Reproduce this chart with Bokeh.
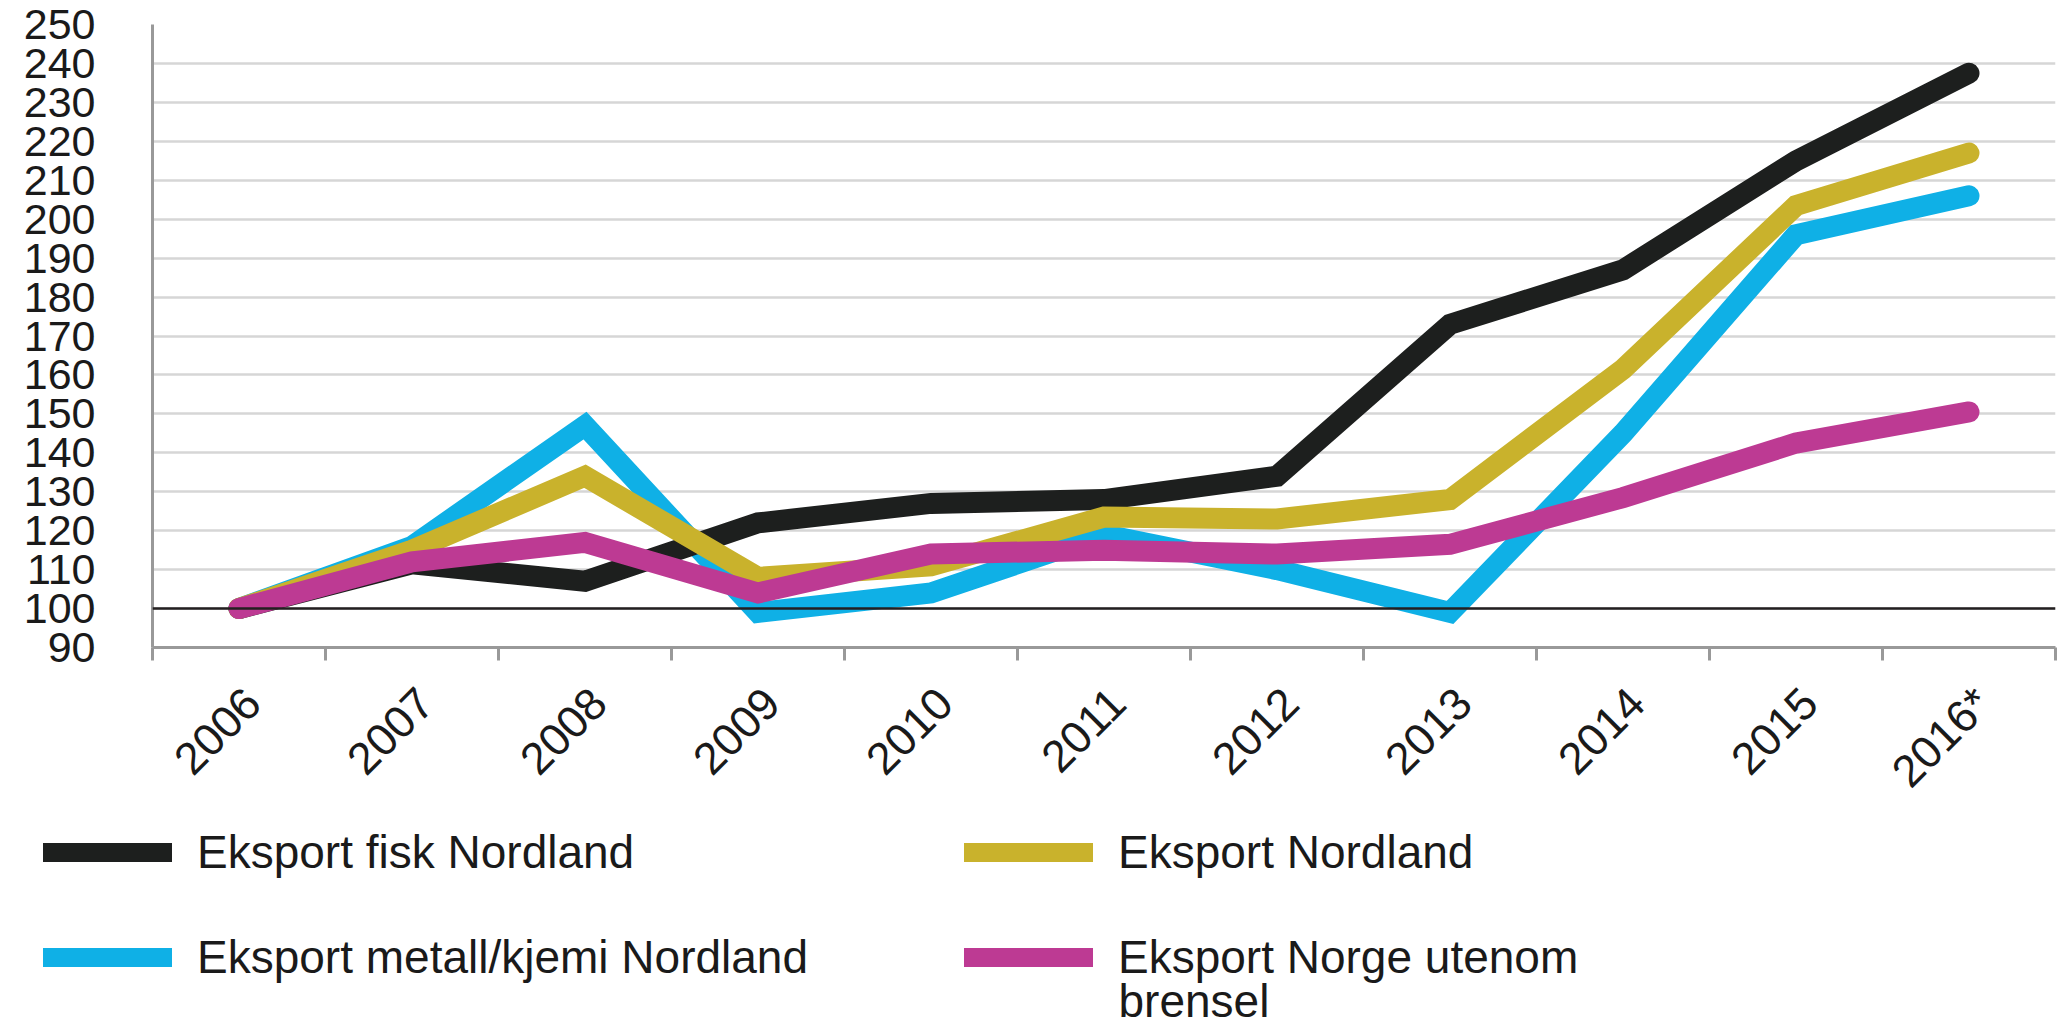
from math import pi
from bokeh.plotting import figure
from bokeh.layouts import column
from bokeh.models import (Range1d, FixedTicker, LinearAxis, Span, Legend, LegendItem, Label,
                          CustomLabelingPolicy)
from bokeh.embed import file_html
from bokeh.resources import INLINE

years = ["2006", "2007", "2008", "2009", "2010", "2011", "2012", "2013", "2014", "2015", "2016*"]
fisk = [100, 111.5, 107, 122, 127, 128, 134, 173, 187, 215, 237.5]
nordland = [100, 115, 134, 108, 111, 123.5, 123, 128, 161.5, 203.5, 217]
metall = [100, 116, 147, 99, 104, 119, 110, 99, 145, 196, 206]
norge = [100, 112, 117, 104, 114, 115, 114, 116.5, 128.5, 142.5, 150.5]
y_ticks = [90, 100, 110, 120, 130, 140, 150, 160, 170, 180, 190, 200, 210, 220, 230, 240, 250]
BASE = 100

names = ["Eksport fisk Nordland", "Eksport Nordland", "Eksport metall/kjemi Nordland",
         "Eksport Norge utenom"]
name_cont = "brensel"
colors = ["#1d1f1e", "#c9b22c", "#0fb0e6", "#bd3a93"]
keys = ["fisk", "nordland", "metall", "norge"]

FONT = "Liberation Sans"
TXT = "#1a1a1a"
AXC = "#999999"
LABEL_SHIFT = 0.08
FRAME_LEFT = 152
LW = 21

xs = list(range(len(years)))

p = figure(width=2061, height=820,
           x_range=Range1d(-0.5, len(years) - 0.5), y_range=Range1d(y_ticks[0], y_ticks[-1]),
           output_backend="svg", toolbar_location=None, x_axis_location=None,
           min_border_left=FRAME_LEFT, min_border_right=6, min_border_top=24, min_border_bottom=173)
p.outline_line_color = None
p.xgrid.visible = False

yt = FixedTicker(ticks=y_ticks)
p.yaxis.ticker = yt
p.ygrid.ticker = yt
p.ygrid.grid_line_color = "#d6d6d6"
p.ygrid.grid_line_width = 2.5
p.yaxis.axis_line_color = AXC
p.yaxis.axis_line_width = 3
p.yaxis.major_tick_line_color = None
p.yaxis.minor_tick_line_color = None
p.yaxis.major_tick_out = 0
p.yaxis.major_label_standoff = 57
p.yaxis.major_label_text_font = FONT
p.yaxis.major_label_text_font_size = "43px"
p.yaxis.major_label_text_color = TXT

# axis with tick marks at category boundaries (labels suppressed)
no_labels = CustomLabelingPolicy(code="for (const i of indices) { indices.unset(i) }\nreturn indices")
ax_b = LinearAxis(ticker=FixedTicker(ticks=[i - 0.5 for i in range(len(years) + 1)]),
                  axis_line_color=AXC, axis_line_width=3,
                  major_tick_line_color=AXC, major_tick_line_width=3,
                  major_tick_out=13, major_tick_in=0, minor_tick_line_color=None,
                  major_label_policy=no_labels,
                  major_label_text_font_size="1px", major_label_standoff=0)
p.add_layout(ax_b, "below")

# axis with year labels
lab_pos = [round(i + LABEL_SHIFT, 3) for i in xs]
ax_l = LinearAxis(ticker=FixedTicker(ticks=lab_pos),
                  major_label_overrides={t: y for t, y in zip(lab_pos, years)},
                  major_label_orientation=pi / 4,
                  axis_line_color=None, major_tick_line_color=None, minor_tick_line_color=None,
                  major_tick_out=0, major_tick_in=0, major_label_standoff=31,
                  major_label_text_font=FONT, major_label_text_font_size="45px",
                  major_label_text_color=TXT)
p.add_layout(ax_l, "below")

p.add_layout(Span(location=BASE, dimension="width", line_color="#231f20", line_width=2.5))

series = {"fisk": fisk, "nordland": nordland, "metall": metall, "norge": norge}
for k in ["metall", "fisk", "nordland", "norge"]:
    i = keys.index(k)
    p.line(xs, series[k], line_width=LW, line_color=colors[i],
           line_cap="round", line_join="miter")

# legend panel
P2H = 207
p2 = figure(width=2061, height=P2H, x_range=Range1d(0, 1), y_range=Range1d(0, 1),
            output_backend="svg", toolbar_location=None,
            x_axis_location=None, y_axis_location=None, min_border=0)
p2.outline_line_color = None
p2.grid.visible = False

LEG_OFF = FRAME_LEFT
if "frame_align" in p2.properties():
    p.frame_align = False
    p2.frame_align = False
    LEG_OFF = 0

nan = float("nan")
leg_r = {}
for i, k in enumerate(keys):
    leg_r[k] = p2.line(x=[nan], y=[nan], line_width=19, line_color=colors[i], line_cap="round")

ITEM_H = 56
def make_legend(k, x, y_bottom):
    return Legend(items=[LegendItem(label=names[keys.index(k)], renderers=[leg_r[k]])],
                  location=(x - LEG_OFF, y_bottom), orientation="vertical", spacing=0,
                  glyph_width=129, glyph_height=ITEM_H, label_height=ITEM_H, label_standoff=25,
                  padding=0, margin=0, border_line_color=None, background_fill_alpha=0,
                  label_text_font=FONT, label_text_font_size="46px", label_text_color=TXT)

# (page x of glyph box, bottom of legend from panel bottom)
p2.add_layout(make_legend("fisk", 43, 147))
p2.add_layout(make_legend("nordland", 964, 147))
p2.add_layout(make_legend("metall", 43, 42))
p2.add_layout(make_legend("norge", 964, 42))
p2.add_layout(Label(x=964 + 129 + 25 - LEG_OFF, y=27, x_units="screen", y_units="screen",
                    text=name_cont, text_font=FONT, text_font_size="46px", text_color=TXT,
                    text_baseline="middle", text_align="left"))

open("out.html", "w").write(file_html(column(p, p2, spacing=0), INLINE))
